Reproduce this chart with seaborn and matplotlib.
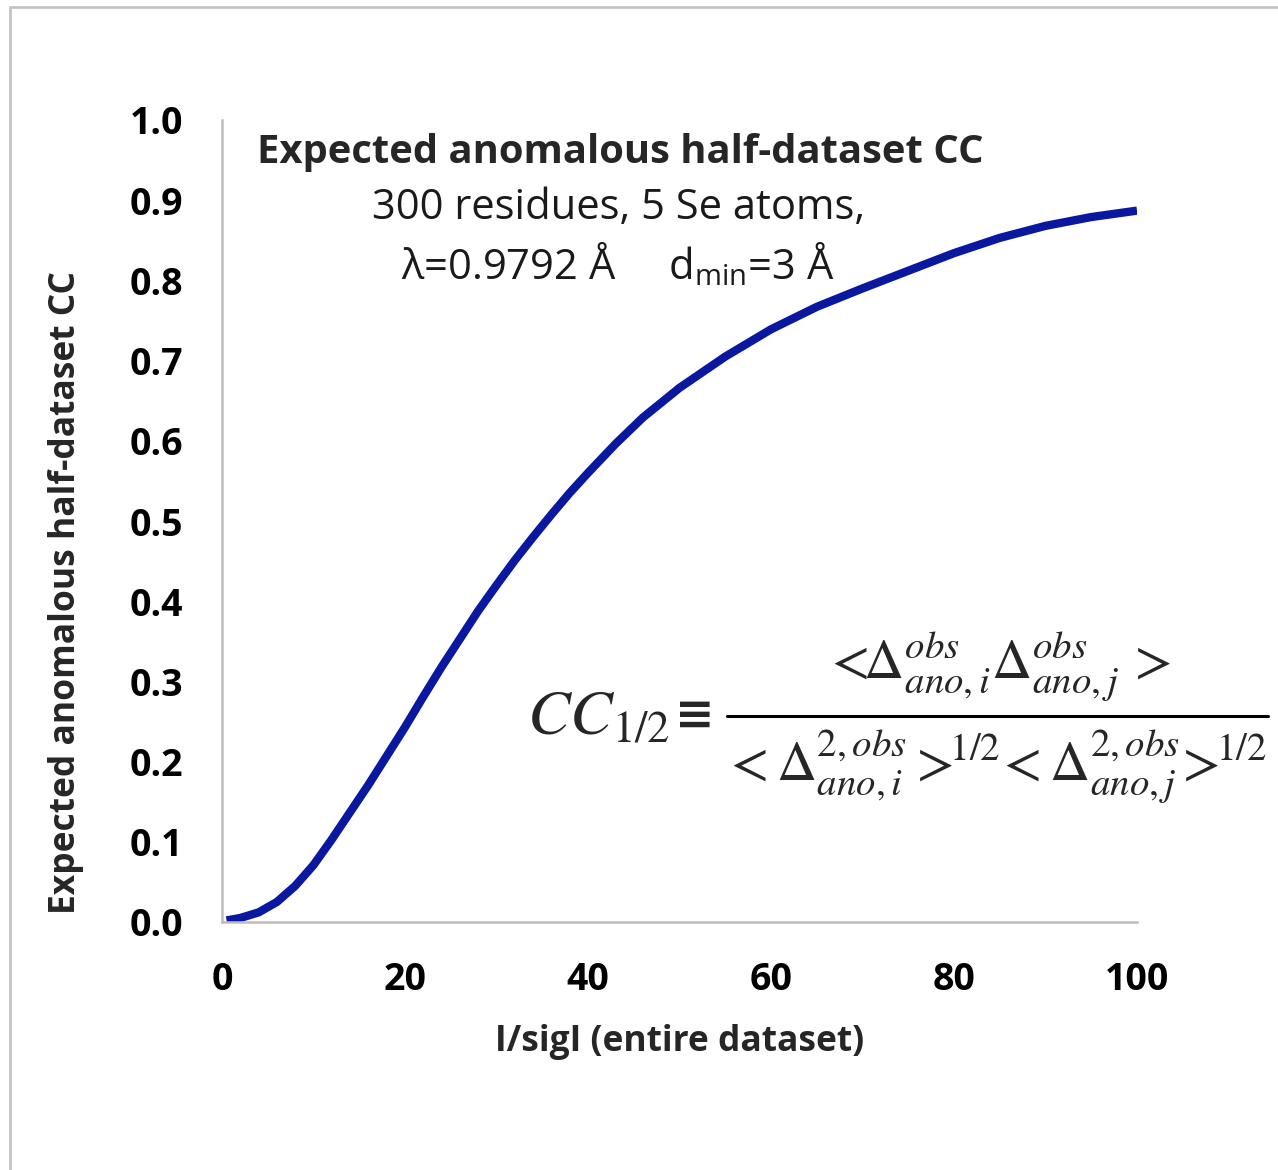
import numpy as np
import pandas as pd
import matplotlib
matplotlib.use("Agg")
import matplotlib.pyplot as plt
from matplotlib.lines import Line2D
import seaborn as sns

# ---- data ----
i_over_sigi = [0.5, 2, 4, 6, 8, 10, 12, 14, 16, 18, 20, 22, 24, 26, 28, 30, 32, 34,
               36, 38, 40, 43, 46, 50, 55, 60, 65, 70, 75, 80, 85, 90, 95, 100]
cc_half = [0.002, 0.005, 0.012, 0.025, 0.045, 0.071, 0.103, 0.137, 0.171, 0.207,
           0.243, 0.281, 0.318, 0.353, 0.388, 0.420, 0.451, 0.480, 0.508, 0.535,
           0.560, 0.596, 0.629, 0.666, 0.705, 0.739, 0.767, 0.790, 0.812, 0.834,
           0.853, 0.868, 0.879, 0.887]
x_ticks = [0, 20, 40, 60, 80, 100]
y_ticks = [0.0, 0.1, 0.2, 0.3, 0.4, 0.5, 0.6, 0.7, 0.8, 0.9, 1.0]

df = pd.DataFrame({"I/sigI": i_over_sigi, "CC": cc_half})

sns.set_theme(style="white")
plt.rcParams["font.family"] = ["Open Sans", "DejaVu Sans"]
plt.rcParams["mathtext.fontset"] = "custom"
plt.rcParams["mathtext.rm"] = "Open Sans"
plt.rcParams["mathtext.it"] = "Open Sans:italic"

W, H = 1278, 1170
fig = plt.figure(figsize=(W / 100, H / 100), dpi=100)
fig.patch.set_facecolor("white")
ax = fig.add_axes([222 / W, 1 - 922 / H, (1137 - 222) / W, (922 - 120) / H])

sns.lineplot(data=df, x="I/sigI", y="CC", ax=ax, color="#0a179f", lw=6,
             solid_capstyle="butt", sort=False)

ax.set_xlim(0, 100)
ax.set_ylim(0, 1.0)
ax.set_xticks(x_ticks)
ax.set_yticks(y_ticks)
ax.set_xticklabels([f"{t}" for t in x_ticks])
ax.set_yticklabels([f"{t:.1f}" for t in y_ticks])
for s in ["top", "right"]:
    ax.spines[s].set_visible(False)
for s in ["left", "bottom"]:
    ax.spines[s].set_color("#bdbdbd")
    ax.spines[s].set_linewidth(1.8)
ax.tick_params(axis="both", direction="out", length=10, width=1.8, color="#bdbdbd",
               labelsize=27, labelcolor="black")
ax.tick_params(axis="y", pad=18)
ax.tick_params(axis="x", pad=18)
for lab in ax.get_xticklabels() + ax.get_yticklabels():
    lab.set_fontweight("bold")

ax.set_xlabel("I/sigI (entire dataset)", fontsize=25.5, fontweight="bold")
ax.set_ylabel("Expected anomalous half-dataset CC", fontsize=25.5, fontweight="bold")
ax.xaxis.set_label_coords(0.5, -0.127)
ax.yaxis.set_label_coords(-0.151, 0.411)

# titles inside the plot
fig.text(620 / W, 1 - 152 / H, "Expected anomalous half-dataset CC", fontsize=28.8,
         fontweight="bold", ha="center", va="center")
fig.text(619 / W, 1 - 208 / H, "300 residues, 5 Se atoms,", fontsize=30,
         ha="center", va="center", color="#1a1a1a")
fig.text(618 / W, 1 - 265 / H, r"λ=0.9792 Å     d$_{\mathrm{min}}$=3 Å", fontsize=30,
         ha="center", va="center", color="#1a1a1a")

# formula, assembled from pieces
fig.text(527 / W, 1 - 735 / H, r"$CC_{1/2}$", fontsize=46, ha="left", va="baseline",
         math_fontfamily="stix")
fig.text(695 / W, 1 - 716 / H, "≡", fontsize=34, ha="center", va="center",
         fontweight="bold", family=["DejaVu Sans"])
fig.add_artist(Line2D([727 / W, 1268 / W], [1 - 716 / H, 1 - 716 / H],
                      transform=fig.transFigure, color="black", lw=2.2))
fig.text(997 / W, 1 - 666 / H,
         r"$<\!\!\Delta^{obs}_{ano,i}\Delta^{obs}_{ano,j}\,>$",
         fontsize=40, ha="center", va="center", math_fontfamily="stix")
fig.text(995 / W, 1 - 767 / H,
         r"$<\Delta^{2,obs}_{ano,i}>\!\!{}^{1/2}\!<\Delta^{2,obs}_{ano,j}\!>\!\!{}^{1/2}$",
         fontsize=40, ha="center", va="center", math_fontfamily="stix")

# frame lines around the figure
fig.add_artist(Line2D([10 / W, 10 / W], [0, 1 - 7 / H], transform=fig.transFigure,
                      color="#c4c4c4", lw=2))
fig.add_artist(Line2D([10 / W, 1], [1 - 7 / H, 1 - 7 / H], transform=fig.transFigure,
                      color="#c4c4c4", lw=2))

fig.savefig("out.png", dpi=100)
